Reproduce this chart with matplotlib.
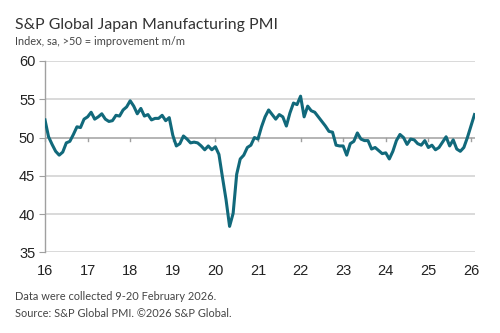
import matplotlib
matplotlib.use("Agg")
import matplotlib.pyplot as plt
import numpy as np

# ── Données : PMI manufacturier Japon, mensuel jan 2016 → fév 2026 ─────────
pmi_2016 = [52.3, 50.1, 49.1, 48.2, 47.7, 48.1, 49.3, 49.5, 50.4, 51.4, 51.3, 52.4]
pmi_2017 = [52.7, 53.3, 52.4, 52.7, 53.1, 52.4, 52.1, 52.2, 52.9, 52.8, 53.6, 54.0]
pmi_2018 = [54.8, 54.1, 53.1, 53.8, 52.8, 53.0, 52.3, 52.5, 52.5, 52.9, 52.2, 52.6]
pmi_2019 = [50.3, 48.9, 49.2, 50.2, 49.8, 49.3, 49.4, 49.3, 48.9, 48.4, 48.9, 48.4]
pmi_2020 = [48.8, 47.8, 44.8, 41.9, 38.4, 40.1, 45.2, 47.2, 47.7, 48.7, 49.0, 50.0]
pmi_2021 = [49.8, 51.4, 52.7, 53.6, 53.0, 52.4, 53.0, 52.7, 51.5, 53.2, 54.5, 54.3]
pmi_2022 = [55.4, 52.7, 54.1, 53.5, 53.3, 52.7, 52.1, 51.5, 50.8, 50.7, 49.0, 48.9]
pmi_2023 = [48.9, 47.7, 49.2, 49.5, 50.6, 49.8, 49.6, 49.6, 48.5, 48.7, 48.3, 47.9]
pmi_2024 = [48.0, 47.2, 48.2, 49.6, 50.4, 50.0, 49.1, 49.8, 49.7, 49.2, 49.0, 49.6]
pmi_2025 = [48.7, 49.0, 48.4, 48.7, 49.4, 50.1, 48.9, 49.7, 48.5, 48.2, 48.7, 50.0]
pmi_2026 = [51.5, 53.0]

pmi = (pmi_2016 + pmi_2017 + pmi_2018 + pmi_2019 + pmi_2020 + pmi_2021
       + pmi_2022 + pmi_2023 + pmi_2024 + pmi_2025 + pmi_2026)
t = 16 + np.arange(len(pmi)) / 12.0          # années décimales (16 = jan 2016)

year_ticks = list(range(16, 27))
y_ticks = [35, 40, 45, 50, 55, 60]

# ── Figure ────────────────────────────────────────────────────────────────────
fig = plt.figure(figsize=(5.0, 3.33), dpi=100)
ax = fig.add_axes([0.09, 0.242, 0.859, 0.575])

ax.set_xlim(16, 16 + (len(pmi) - 1) / 12.0)
ax.set_ylim(35, 60)

# grille horizontale
for y in y_ticks:
    if y == 50:
        continue
    ax.axhline(y, color="#d0d0d0", lw=1.1, zorder=1)
ax.axhline(50, color="#a0a0a0", lw=1.1, zorder=1)

# ticks de l'axe x posés sur la ligne 50
for yr in year_ticks:
    ax.plot([yr, yr], [50, 49.6], color="#a0a0a0", lw=1.0, zorder=1,
            clip_on=False)

ax.plot(t, pmi, color="#11697b", lw=2.2, zorder=3, solid_joinstyle="round")

for s in ["top", "right", "bottom"]:
    ax.spines[s].set_visible(False)
ax.spines["left"].set_color("#a0a0a0")
ax.spines["left"].set_linewidth(1.0)

ax.set_yticks(y_ticks)
ax.set_xticks(year_ticks)
ax.set_xticklabels([str(y) for y in year_ticks])
ax.tick_params(axis="y", length=4, color="#a0a0a0", labelsize=10.5,
               labelcolor="#222222", pad=3)
ax.tick_params(axis="x", length=0, labelsize=10.5, labelcolor="#222222", pad=8)
for lab in ax.get_xticklabels() + ax.get_yticklabels():
    lab.set_family("Liberation Sans")

# ── Textes ────────────────────────────────────────────────────────────────────
fig.text(0.03, 0.925, "S&P Global Japan Manufacturing PMI", fontsize=11.4,
         color="#333333", family="Lato", va="center")
fig.text(0.03, 0.876, "Index, sa, >50 = improvement m/m", fontsize=7.9,
         color="#444444", family="Lato", va="center")
fig.text(0.03, 0.11, "Data were collected 9-20 February 2026.", fontsize=7.9,
         color="#444444", family="Lato", va="center")
fig.text(0.03, 0.058, "Source: S&P Global PMI. ©2026 S&P Global.", fontsize=7.9,
         color="#444444", family="Lato", va="center")

fig.savefig("out.png", dpi=100)
